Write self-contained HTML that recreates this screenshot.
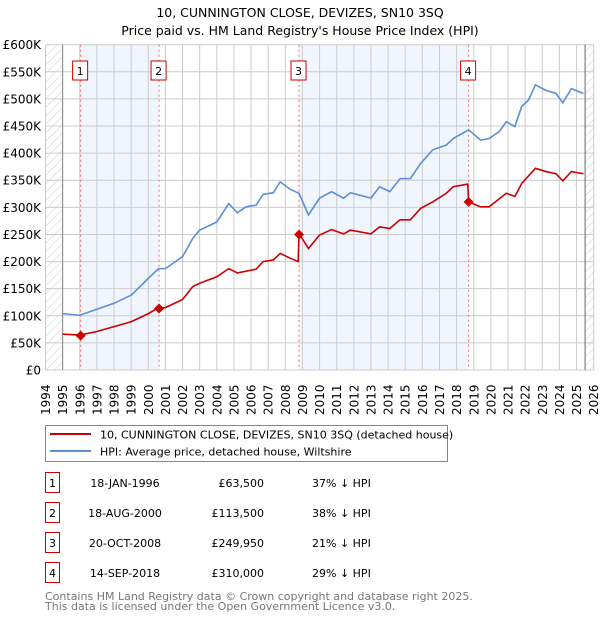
<!DOCTYPE html>
<html><head><meta charset="utf-8"><style>
body{margin:0;background:#fff;font-family:"DejaVu Sans","Liberation Sans",sans-serif;}
svg text{font-family:"DejaVu Sans","Liberation Sans",sans-serif;}
</style></head><body>
<svg id="chart" width="600" height="620" xmlns="http://www.w3.org/2000/svg">
<text x="300" y="17" text-anchor="middle" font-size="12.5">10, CUNNINGTON CLOSE, DEVIZES, SN10 3SQ</text>
<text x="300" y="35" text-anchor="middle" font-size="12.5">Price paid vs. HM Land Registry's House Price Index (HPI)</text>
<defs><pattern id="hatch" width="6" height="6" patternUnits="userSpaceOnUse" patternTransform="rotate(45)"><line x1="0" y1="0" x2="0" y2="6" stroke="#ccc" stroke-width="1"/></pattern></defs>
<g id="grid"></g><g id="marks"></g><g id="axes"></g>
<g>
<rect x="45.5" y="425.5" width="402" height="36" fill="#fff" stroke="#888"/>
<line x1="50" y1="434" x2="91" y2="434" stroke="#cc0000" stroke-width="2"/>
<text x="100" y="438.5" font-size="11">10, CUNNINGTON CLOSE, DEVIZES, SN10 3SQ (detached house)</text>
<line x1="50" y1="451" x2="91" y2="451" stroke="#5b8fd6" stroke-width="2"/>
<text x="100" y="455.5" font-size="11">HPI: Average price, detached house, Wiltshire</text>
</g>
<g id="table"></g>
<text x="45" y="600" font-size="11" fill="#777">Contains HM Land Registry data © Crown copyright and database right 2025.</text>
<text x="45" y="610" font-size="11" fill="#777">This data is licensed under the Open Government Licence v3.0.</text>
</svg>
<script>
const yTicks=[0,50,100,150,200,250,300,350,400,450,500,550,600];
const yearTicks=[1994,1995,1996,1997,1998,1999,2000,2001,2002,2003,2004,2005,2006,2007,2008,2009,2010,2011,2012,2013,2014,2015,2016,2017,2018,2019,2020,2021,2022,2023,2024,2025,2026];
const hpiYears=[1995,1996,1997,1998,1999,2000,2000.6,2001,2002,2002.6,2003,2004,2004.7,2005.2,2005.7,2006.3,2006.7,2007.3,2007.7,2008.3,2008.8,2009.35,2010,2010.7,2011.4,2011.8,2013,2013.5,2014.1,2014.7,2015.3,2015.9,2016.6,2017.4,2017.8,2018.7,2019.4,2019.9,2020.5,2020.9,2021.4,2021.8,2022.2,2022.6,2023.2,2023.8,2024.2,2024.7,2025.4];
const hpiValues=[104,101,112,123,138,169,187,187,209,243,258,273,307,290,301,304,324,327,347,333,326,286,317,329,317,327,317,338,329,353,353,381,406,415,427,443,424,427,440,458,449,486,498,526,516,510,493,519,510];
const priceYears=[1995,1996,1997,1998,1999,2000,2000.6,2001,2002,2002.6,2003,2004,2004.7,2005.2,2006.3,2006.7,2007.3,2007.7,2008.3,2008.75,2008.8,2009.35,2010,2010.7,2011.4,2011.8,2013,2013.5,2014.1,2014.7,2015.3,2015.9,2016.6,2017.4,2017.8,2018.65,2018.7,2019.4,2019.9,2020.9,2021.4,2021.8,2022.6,2023.2,2023.8,2024.2,2024.7,2025.4];
const priceValues=[66,64.5,71,80,89,104,115,115,130,154,160,172,187,179,186,200,203,215,206,200,252,224,249,259,251,258,251,264,261,277,277,298,310,326,338,343,310,301,301,326,320,344,372,366,362,349,366,362];
const saleYears=[1996.05,2000.63,2008.8,2018.7];
const saleValues=[63.5,113.5,249.95,310];
const saleLabels=["1","2","3","4"];
const saleDates=["18-JAN-1996","18-AUG-2000","20-OCT-2008","14-SEP-2018"];
const salePrices=["£63,500","£113,500","£249,950","£310,000"];
const saleDiffs=["37% ↓ HPI","38% ↓ HPI","21% ↓ HPI","29% ↓ HPI"];
const NS="http://www.w3.org/2000/svg";
const X=y=>45.5+(y-1994)*17.13, Y=v=>370-v/600*325.3;
function mk(t,a,p){const e=document.createElementNS(NS,t);for(const k in a)e.setAttribute(k,a[k]);p.appendChild(e);return e;}
const grid=document.getElementById('grid'),marks=document.getElementById('marks'),axes=document.getElementById('axes'),tbl=document.getElementById('table');
// shaded spans
for(let i=0;i<saleYears.length;i+=2){
 const r=mk('rect',{x:X(saleYears[i]),y:Y(600),width:X(saleYears[i+1])-X(saleYears[i]),height:Y(0)-Y(600),fill:'#eef3fc',opacity:0.8},grid);
 
 
}
mk('rect',{x:X(1994),y:Y(600),width:X(1995)-X(1994),height:Y(0)-Y(600),fill:'url(#hatch)'},grid);
mk('rect',{x:X(2025.5),y:Y(600),width:X(2026)-X(2025.5)+1,height:Y(0)-Y(600),fill:'url(#hatch)'},grid);
yTicks.forEach(v=>{
 mk('line',{x1:X(1994),x2:X(2026),y1:Y(v),y2:Y(v),stroke:'#ccc'},grid);
 const t=mk('text',{x:41,y:Y(v)+4.5,'text-anchor':'end','font-size':12},axes);t.textContent=v===0?'£0':'£'+v+'K';
 
 
});
yearTicks.forEach(y=>{
 mk('line',{x1:X(y),x2:X(y),y1:Y(600),y2:Y(0),stroke:'#ccc'},grid);
 const t=mk('text',{transform:`translate(${X(y)+4.5},${Y(0)+45}) rotate(-90)`,'font-size':12},axes);t.textContent=y;
 
 
});
mk('line',{x1:X(1995),x2:X(1995),y1:Y(600),y2:Y(0),stroke:'#888'},grid);
mk('line',{x1:X(2025.5),x2:X(2025.5),y1:Y(600),y2:Y(0),stroke:'#666'},grid);
saleYears.forEach((y,i)=>{
 mk('line',{x1:X(y),x2:X(y),y1:Y(600),y2:Y(0),stroke:'#f07070','stroke-dasharray':'2,3'},marks);
 const b=mk('rect',{x:X(y)-8,y:61,width:15,height:19,fill:'#fff',stroke:'#cc0000'},marks);
 
 
 const t=mk('text',{x:X(y)-0.5,y:75,'text-anchor':'middle','font-size':11},marks);t.textContent=saleLabels[i];
});
const hp=mk('polyline',{points:hpiYears.map((y,i)=>X(y)+','+Y(hpiValues[i])).join(' '),fill:'none',stroke:'#5b8fd6','stroke-width':1.6},marks);


const pp=mk('polyline',{points:priceYears.map((y,i)=>X(y)+','+Y(priceValues[i])).join(' '),fill:'none',stroke:'#cc0000','stroke-width':1.6},marks);


saleYears.forEach((y,i)=>{
 const cx=X(y),cy=Y(saleValues[i]);
 const d=mk('polygon',{points:`${cx},${cy-5} ${cx+5},${cy} ${cx},${cy+5} ${cx-5},${cy}`,fill:'#cc0000'},marks);
 
 
});
saleLabels.forEach((l,i)=>{
 const cy=483+i*30;
 mk('rect',{x:45.5,y:cy-10.5,width:14,height:20,fill:'#fff',stroke:'#cc0000'},tbl);
 let t=mk('text',{x:52.5,y:cy+4,'text-anchor':'middle','font-size':11},tbl);t.textContent=l;
 t=mk('text',{x:125,y:cy+4,'text-anchor':'middle','font-size':11},tbl);t.textContent=saleDates[i];
 t=mk('text',{x:264,y:cy+4,'text-anchor':'end','font-size':11},tbl);t.textContent=salePrices[i];
 t=mk('text',{x:312,y:cy+4,'font-size':11},tbl);t.textContent=saleDiffs[i];
});
</script>
</body></html>
